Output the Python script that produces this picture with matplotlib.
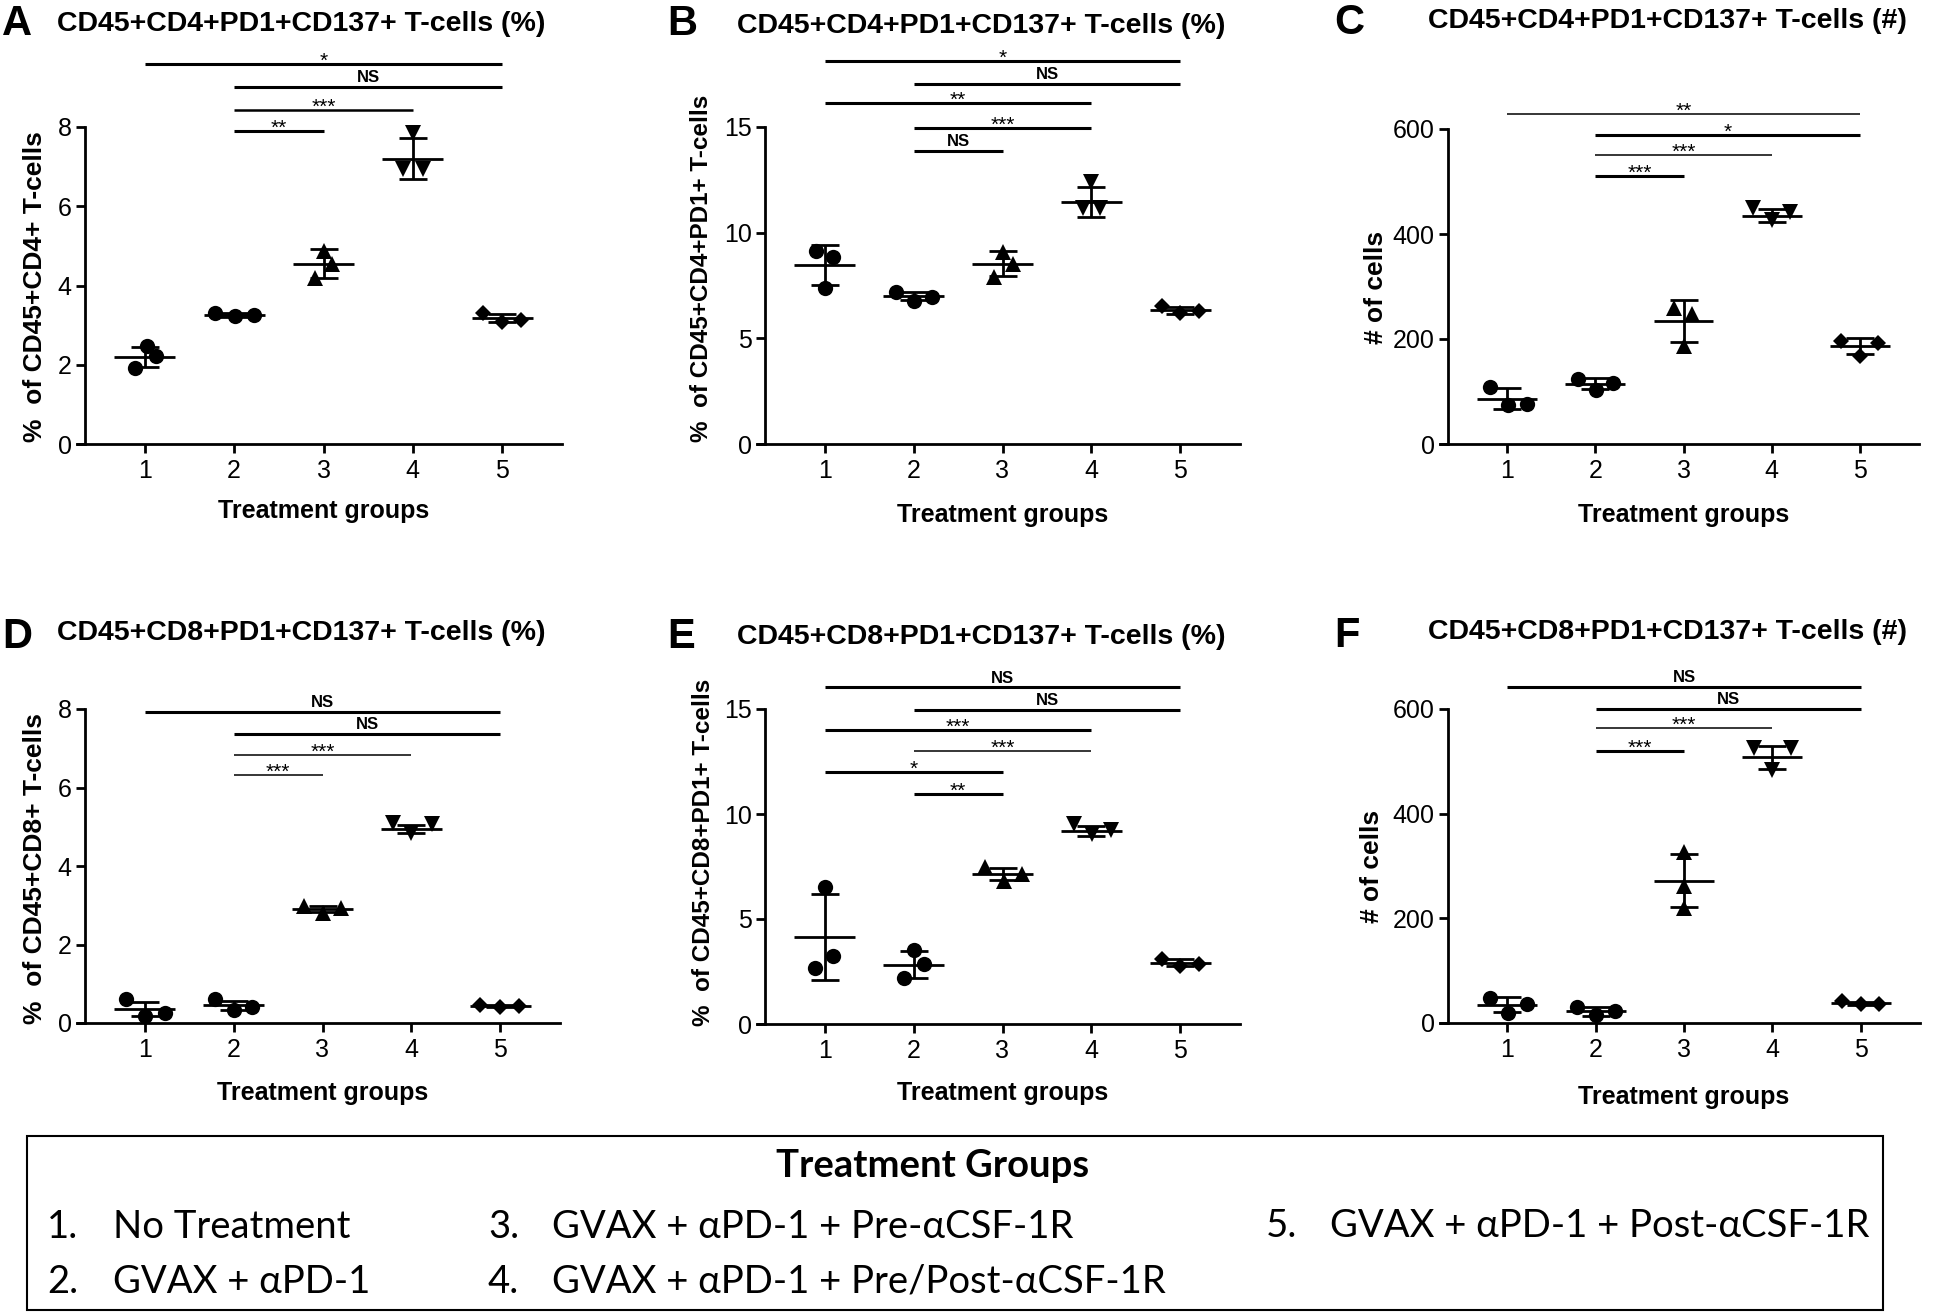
#!/usr/bin/env python3
"""
PD1+CD137+ T-cells per treatment group (mean +/- SD, n=3),
CD4 on the top row, CD8 on the bottom row, with significance bars.
"""

import matplotlib
matplotlib.use("Agg")
import matplotlib.pyplot as plt
from matplotlib.patches import Rectangle

# ============================================================
# Data
# ============================================================
GROUPS = [1, 2, 3, 4, 5]
XTICK_LABELS = ["1", "2", "3", "4", "5"]

A_POINTS = [[2.48, 2.22, 1.91], [3.31, 3.22, 3.25], [4.88, 4.53, 4.18],
            [7.85, 6.93, 6.93], [3.31, 3.07, 3.13]]
A_MEAN = [2.20, 3.26, 4.55, 7.20, 3.19]
A_SD = [0.26, 0.05, 0.36, 0.52, 0.10]
A_SIG = [(1, 5, "*"), (2, 5, "NS"), (2, 4, "***"), (2, 3, "**")]

B_POINTS = [[9.15, 8.87, 7.39], [7.21, 6.77, 6.97], [9.10, 8.50, 7.92],
            [12.38, 11.15, 11.15], [6.53, 6.20, 6.28]]
B_MEAN = [8.47, 7.00, 8.54, 11.45, 6.33]
B_SD = [0.94, 0.20, 0.59, 0.69, 0.17]
B_SIG = [(1, 5, "*"), (2, 5, "NS"), (1, 4, "**"), (2, 4, "***"), (2, 3, "NS")]

C_POINTS = [[108, 74, 76], [123, 102, 117], [260, 248, 186],
            [450, 426, 442], [197, 168, 192]]
C_MEAN = [86, 115, 235, 435, 186]
C_SD = [20, 10, 40, 12, 15]
C_SIG = [(1, 5, "**"), (2, 5, "*"), (2, 4, "***"), (2, 3, "***")]

D_POINTS = [[0.60, 0.17, 0.25], [0.60, 0.34, 0.42], [2.98, 2.79, 2.92],
            [5.09, 4.83, 5.07], [0.45, 0.42, 0.43]]
D_MEAN = [0.36, 0.45, 2.90, 4.95, 0.44]
D_SD = [0.18, 0.12, 0.08, 0.10, 0.02]
D_SIG = [(1, 5, "NS"), (2, 5, "NS"), (2, 4, "***"), (2, 3, "***")]

E_POINTS = [[6.53, 3.25, 2.67], [3.52, 2.86, 2.19], [7.46, 6.83, 7.16],
            [9.54, 9.04, 9.25], [3.10, 2.76, 2.87]]
E_MEAN = [4.13, 2.83, 7.15, 9.20, 2.91]
E_SD = [2.04, 0.64, 0.30, 0.25, 0.17]
E_SIG = [(1, 5, "NS"), (2, 5, "NS"), (1, 4, "***"), (2, 4, "***"),
         (1, 3, "*"), (2, 3, "**")]

F_POINTS = [[48, 19, 35.5], [31, 16, 22], [326, 262, 220],
            [526, 526, 484], [41.6, 35.5, 36.4]]
F_MEAN = [35, 22, 272, 508, 37.8]
F_SD = [14, 8, 50, 22, 3]
F_SIG = [(1, 5, "NS"), (2, 5, "NS"), (2, 4, "***"), (2, 3, "***")]

TREATMENTS = [
    "No Treatment",
    "GVAX + αPD-1",
    "GVAX + αPD-1 + Pre-αCSF-1R",
    "GVAX + αPD-1 + Pre/Post-αCSF-1R",
    "GVAX + αPD-1 + Post-αCSF-1R",
]

# ============================================================
# Layout / style (pixel positions in the 1946x1313 canvas)
# ============================================================
W, H, DPI = 1946, 1313, 100
XLIM = (0.33, 5.67)
MARKERS = ["o", "o", "^", "v", "D"]
MSIZE = {"o": 11, "^": 11, "v": 11, "D": 8}
THICK, THIN = 2.2, 1.1

SPREAD3 = [-0.21, 0.0, 0.21]

PANELS = [
    dict(letter="A", title="CD45+CD4+PD1+CD137+ T-cells (%)",
         ylabel="%  of CD45+CD4+ T-cells", ylabel_fs=19,
         pts=A_POINTS, mean=A_MEAN, sd=A_SD, sig=A_SIG,
         box=(85, 127, 562, 444), ymax=8, yticks=[0, 2, 4, 6, 8],
         letter_xy=(2, 24), title_xy=(57, 24), ylabel_xy=(35, 287), xlabel_y=511,
         sig_y=[9.58, 9.01, 8.44, 7.90], sig_lw=[THICK, THICK, 1.8, THICK],
         jit=[[0.02, 0.12, -0.11], [-0.21, 0.01, 0.22], [0.0, 0.10, -0.09],
              [0.0, -0.11, 0.11], [-0.22, 0.0, 0.21]]),
    dict(letter="B", title="CD45+CD4+PD1+CD137+ T-cells (%)",
         ylabel="%  of CD45+CD4+PD1+ T-cells", ylabel_fs=17.5,
         pts=B_POINTS, mean=B_MEAN, sd=B_SD, sig=B_SIG,
         box=(765, 127, 1240, 444), ymax=15, yticks=[0, 5, 10, 15],
         letter_xy=(667, 24), title_xy=(737, 26), ylabel_xy=(701, 268), xlabel_y=515,
         sig_y=[18.1, 17.05, 16.13, 14.95, 13.86],
         sig_lw=[THICK, THICK, THICK, THICK, THICK],
         jit=[[-0.10, 0.10, 0.0], [-0.20, 0.0, 0.21], [0.0, 0.12, -0.10],
              [0.0, -0.09, 0.10], SPREAD3]),
    dict(letter="C", title="CD45+CD4+PD1+CD137+ T-cells (#)",
         ylabel="# of cells", ylabel_fs=19,
         pts=C_POINTS, mean=C_MEAN, sd=C_SD, sig=C_SIG,
         box=(1448, 129, 1919, 444), ymax=600, yticks=[0, 200, 400, 600],
         letter_xy=(1334, 23), title_xy=(1428, 21), ylabel_xy=(1376, 287), xlabel_y=515,
         sig_y=[629, 588, 551, 510], sig_lw=[THIN, THICK, THIN, THICK],
         jit=[[-0.19, 0.01, 0.22], [-0.20, 0.01, 0.20], [-0.11, 0.10, 0.0],
              SPREAD3, SPREAD3]),
    dict(letter="D", title="CD45+CD8+PD1+CD137+ T-cells (%)",
         ylabel="%  of CD45+CD8+ T-cells", ylabel_fs=19,
         pts=D_POINTS, mean=D_MEAN, sd=D_SD, sig=D_SIG,
         box=(85, 709, 560, 1023), ymax=8, yticks=[0, 2, 4, 6, 8],
         letter_xy=(2, 637), title_xy=(57, 633), ylabel_xy=(35, 869), xlabel_y=1093,
         sig_y=[7.93, 7.37, 6.83, 6.32], sig_lw=[THICK, THICK, THIN, THIN],
         jit=[[-0.21, 0.0, 0.23], SPREAD3, SPREAD3, [-0.21, 0.0, 0.23],
              [-0.23, 0.0, 0.21]]),
    dict(letter="E", title="CD45+CD8+PD1+CD137+ T-cells (%)",
         ylabel="%  of CD45+CD8+PD1+ T-cells", ylabel_fs=17.5,
         pts=E_POINTS, mean=E_MEAN, sd=E_SD, sig=E_SIG,
         box=(765, 709, 1240, 1024), ymax=15, yticks=[0, 5, 10, 15],
         letter_xy=(667, 637), title_xy=(737, 637), ylabel_xy=(703, 852), xlabel_y=1093,
         sig_y=[16.03, 14.97, 14.02, 13.0, 12.0, 10.97],
         sig_lw=[THICK, THICK, THICK, THIN, THICK, THICK],
         jit=[[0.0, 0.09, -0.11], [0.0, 0.12, -0.11], [-0.20, 0.02, 0.22],
              [-0.20, 0.01, 0.22], SPREAD3]),
    dict(letter="F", title="CD45+CD8+PD1+CD137+ T-cells (#)",
         ylabel="# of cells", ylabel_fs=19,
         pts=F_POINTS, mean=F_MEAN, sd=F_SD, sig=F_SIG,
         box=(1448, 709, 1920, 1023), ymax=600, yticks=[0, 200, 400, 600],
         letter_xy=(1334, 636), title_xy=(1428, 632), ylabel_xy=(1372, 866), xlabel_y=1097,
         sig_y=[641.5, 600, 564, 519], sig_lw=[THICK, THICK, THIN, THICK],
         jit=[[-0.19, 0.01, 0.22], [-0.21, 0.0, 0.22], [0.0, 0.0, 0.0],
              [-0.21, 0.21, 0.0], SPREAD3]),
]

plt.rcParams["font.family"] = ["Liberation Sans", "DejaVu Sans"]
LEGEND_FONT = ["Lato", "DejaVu Sans"]
LEGEND_FS = 27.5


def fx(px):
    return px / W


def fy(py):
    return 1 - py / H


# ============================================================
# Plot
# ============================================================
fig = plt.figure(figsize=(W / DPI, H / DPI), dpi=DPI)

for p in PANELS:
    l, t, r, b = p["box"]
    ax = fig.add_axes([fx(l), fy(b), (r - l) / W, (b - t) / H])

    for g, ys, jit, mk in zip(GROUPS, p["pts"], p["jit"], MARKERS):
        xs = [g + j for j in jit]
        ax.plot(xs, ys, ls="none", marker=mk, ms=MSIZE[mk], color="black",
                mew=0, zorder=3, clip_on=False)

    ax.hlines(p["mean"], [g - 0.34 for g in GROUPS], [g + 0.34 for g in GROUPS],
              color="black", lw=2, zorder=4)
    ax.errorbar(GROUPS, p["mean"], yerr=p["sd"], fmt="none", ecolor="black",
                elinewidth=2, capsize=10, capthick=2, zorder=4)

    # significance bars
    for (g1, g2, lab), y, lw in zip(p["sig"], p["sig_y"], p["sig_lw"]):
        ax.plot([g1, g2], [y, y], color="black", lw=lw, clip_on=False,
                solid_capstyle="butt")
        if lab == "NS":
            ax.annotate(lab, ((g1 + g2) / 2, y), xytext=(0, 3.5),
                        textcoords="offset points", ha="center", va="baseline",
                        fontsize=12, fontweight="bold", annotation_clip=False)
        else:
            ax.annotate(lab, ((g1 + g2) / 2, y), xytext=(0, -2),
                        textcoords="offset points", ha="center", va="baseline",
                        fontsize=15, annotation_clip=False)

    ax.set_xlim(*XLIM)
    ax.set_ylim(0, p["ymax"])
    ax.set_xticks(GROUPS)
    ax.set_xticklabels(XTICK_LABELS)
    ax.set_yticks(p["yticks"])
    ax.set_yticklabels([str(v) for v in p["yticks"]])

    for side in ("top", "right"):
        ax.spines[side].set_visible(False)
    for side in ("left", "bottom"):
        ax.spines[side].set_linewidth(2)
    ext = 8 / (r - l) * (XLIM[1] - XLIM[0])
    ax.spines["bottom"].set_bounds(XLIM[0] - ext, XLIM[1])

    ax.tick_params(direction="out", length=6.5, width=2, labelsize=18, color="black")
    ax.tick_params(axis="x", pad=4)
    ax.tick_params(axis="y", pad=3)

    ax.set_xlabel("Treatment groups", fontsize=18, fontweight="bold")
    ax.xaxis.set_label_coords(0.5, (b - p["xlabel_y"]) / (b - t))
    ax.xaxis.label.set_va("center")
    ax.set_ylabel(p["ylabel"], fontsize=p["ylabel_fs"], fontweight="bold")
    lbx, lby = p["ylabel_xy"]
    ax.yaxis.set_label_coords((lbx - l) / (r - l), (b - lby) / (b - t))
    ax.yaxis.label.set_va("center")

    lx, ly = p["letter_xy"]
    fig.text(fx(lx), fy(ly), p["letter"], fontsize=30, fontweight="bold",
             ha="left", va="center")
    tx, ty = p["title_xy"]
    fig.text(fx(tx), fy(ty), p["title"], fontsize=20.5, fontweight="bold",
             ha="left", va="center")

# ============================================================
# Treatment group key
# ============================================================
fig.add_artist(Rectangle((fx(27), fy(1310)), (1883 - 27) / W, (1310 - 1136) / H,
                         transform=fig.transFigure, fill=False,
                         edgecolor="black", lw=1.5))
fig.text(fx(933), fy(1177), "Treatment Groups", family=LEGEND_FONT,
         fontsize=LEGEND_FS, fontweight="bold", ha="center", va="baseline")

KEY_POS = [(47, 113, 1238), (47, 113, 1293), (488, 552, 1238),
           (488, 552, 1293), (1266, 1330, 1237)]
for i, (name, (nx, tx, by)) in enumerate(zip(TREATMENTS, KEY_POS), start=1):
    fig.text(fx(nx), fy(by), f"{i}.", family=LEGEND_FONT, fontsize=LEGEND_FS,
             ha="left", va="baseline")
    fig.text(fx(tx), fy(by), name, family=LEGEND_FONT, fontsize=LEGEND_FS,
             ha="left", va="baseline")

fig.savefig("out.png", dpi=DPI)
print("Saved: out.png")
